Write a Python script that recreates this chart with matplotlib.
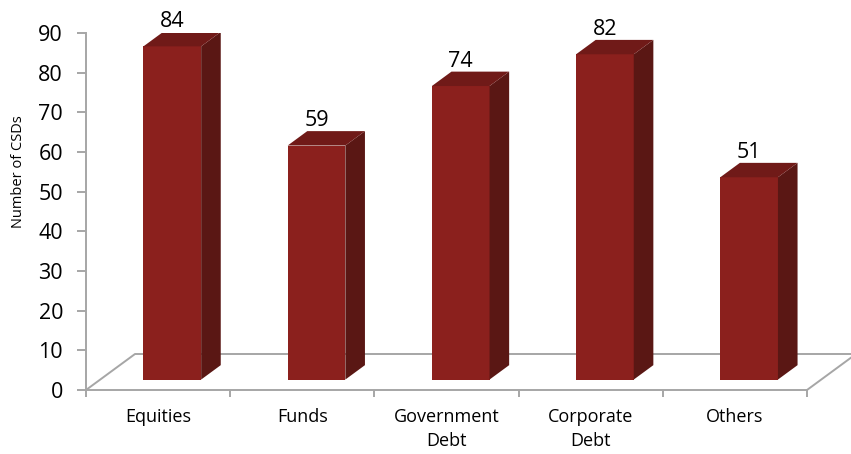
import matplotlib.pyplot as plt
import numpy as np
from matplotlib.patches import Polygon

categories = ['Equities', 'Funds', 'Government\nDebt', 'Corporate\nDebt', 'Others']
csds = [84, 59, 74, 82, 51]

plt.rcParams['font.family'] = ['Open Sans', 'DejaVu Sans']

W, H = 851, 454
fig = plt.figure(figsize=(W/100, H/100), dpi=100)
ax = fig.add_axes([86/W, 64/H, (W-86)/W, 357/H])
ax.set_xlim(0, (W-86)/144.2)
ax.set_ylim(0, 90)

# floor depth in data units (fake 3d)
ddx = 49/144.2
ddy = 36/(357/90)
d0, d1 = 0.29, 0.69  # bar front / back as fraction of depth
bw = 0.40

front = '#8B201D'
side = '#5A1714'
top = '#701A18'
grey = '#A6A6A6'

# floor
n = len(csds)
ax.plot([0, ddx, n+ddx+0.2], [0, ddy, ddy], color=grey, lw=1.4, clip_on=False, zorder=1)
ax.plot([n, n+ddx], [0, ddy], color=grey, lw=1.4, clip_on=False, zorder=1)

ox = (d1-d0)*ddx
oy = (d1-d0)*ddy
for i, v in enumerate(csds):
    cx = i + 0.5
    x0 = cx - bw/2 + d0*ddx
    x1 = x0 + bw
    y0 = d0*ddy
    y1 = y0 + v
    ax.add_patch(Polygon([(x0, y0), (x1, y0), (x1, y1), (x0, y1)], closed=True,
                         fc=front, ec='none', zorder=3))
    ax.add_patch(Polygon([(x1, y0), (x1+ox, y0+oy), (x1+ox, y1+oy), (x1, y1)], closed=True,
                         fc=side, ec='none', zorder=3))
    ax.add_patch(Polygon([(x0, y1), (x1, y1), (x1+ox, y1+oy), (x0+ox, y1+oy)], closed=True,
                         fc=top, ec='none', zorder=3))
    ax.annotate(str(v), (cx + d0*ddx, y1 + oy), xytext=(0, 0), textcoords='offset points',
                ha='center', va='bottom', fontsize=15.5, annotation_clip=False)

for s in ['top', 'right']:
    ax.spines[s].set_visible(False)
ax.spines['left'].set_color(grey)
ax.spines['left'].set_linewidth(1.4)
ax.spines['bottom'].set_color(grey)
ax.spines['bottom'].set_linewidth(1.4)
ax.spines['bottom'].set_bounds(0, n)

ax.set_yticks(np.arange(0, 100, 10))
ax.tick_params(axis='y', length=6.5, width=1.4, color=grey, labelsize=15.5, pad=10)
ax.set_xticks(np.arange(n+1))
ax.set_xticklabels([''] * (n+1))
ax.set_xticks(np.arange(n) + 0.5, minor=True)
ax.set_xticklabels(categories, minor=True, fontsize=13, linespacing=1.45)
ax.tick_params(axis='x', which='minor', length=0, pad=13)
ax.tick_params(axis='x', which='major', length=5, width=1.4, color=grey)

fig.text(19/W, 1-172/H, 'Number of CSDs', rotation=90, fontsize=10.5, ha='center', va='center')

fig.savefig('out.png', dpi=100)
